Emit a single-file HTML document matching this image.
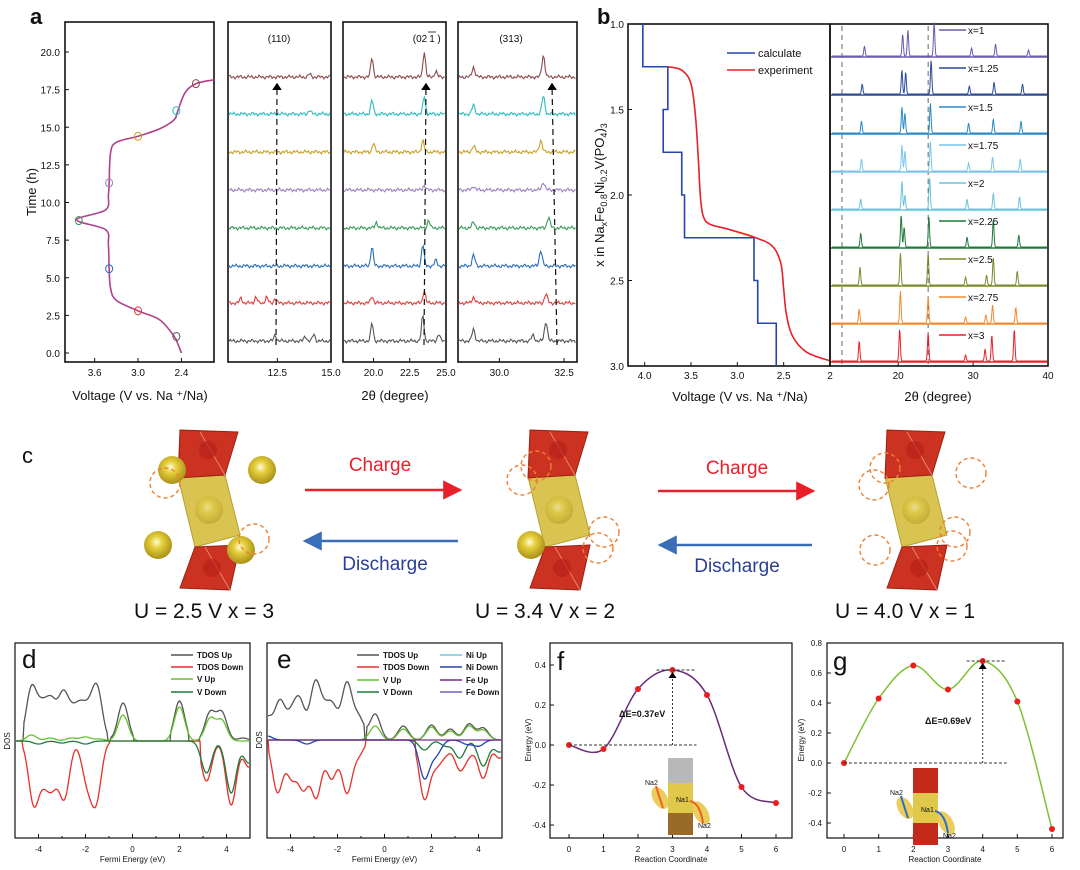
<!DOCTYPE html>
<html><head><meta charset="utf-8"><style>
html,body{margin:0;padding:0;background:#fff}
svg{display:block;font-family:"Liberation Sans",sans-serif}
</style></head><body>
<svg id="fig" width="1080" height="870" viewBox="0 0 1080 870" xmlns="http://www.w3.org/2000/svg">
<defs>
<radialGradient id="sph" cx="0.45" cy="0.4" r="0.6"><stop offset="0" stop-color="#fffbe0"/><stop offset="0.35" stop-color="#e6cf3c"/><stop offset="1" stop-color="#a89018"/></radialGradient>
<marker id="ahR" markerWidth="8" markerHeight="8" refX="7" refY="4" orient="auto"><path d="M0,0 L8,4 L0,8z" fill="#e8202a"/></marker>
<marker id="ahB" markerWidth="8" markerHeight="8" refX="7" refY="4" orient="auto"><path d="M0,0 L8,4 L0,8z" fill="#3a6eb8"/></marker>
<marker id="ahK" markerWidth="6" markerHeight="8" refX="5" refY="4" orient="auto"><path d="M0,0 L6,4 L0,8z" fill="#000"/></marker>
</defs>
</svg>
<script>
// ===== DATA =====
const aVolt = [2.4,2.45,2.5,2.7,3.0,3.3,3.38,3.4,3.41,3.45,3.85,3.45,3.41,3.4,3.38,3.3,3.0,2.7,2.5,2.45,2.35,2.2,1.95];
const aTime = [0,0.6,1.1,2.2,2.8,3.5,4.3,5.6,7.2,8.2,8.85,9.5,10.5,11.3,13.3,14.0,14.4,14.9,15.5,16.1,17.3,17.9,18.15];
const aMarkV = [2.47,3.0,3.4,3.82,3.4,3.0,2.47,2.2];
const aMarkT = [1.1,2.8,5.6,8.8,11.3,14.4,16.1,17.9];
const aMarkC = ['#555','#e33','#2a6ebb','#3a9a5a','#9b7fc0','#c9a020','#2bbcbc','#8b4a4a'];
const aYTicks = [0,2.5,5,7.5,10,12.5,15,17.5,20];
const aXTicks = [3.6,3.0,2.4];
const xrdColors = ['#555555','#e33b3b','#2a6ebb','#3a9a5a','#9b7fc0','#c9a020','#2bbcbc','#8b4a4a'];
const xrd1 = [[[12.4,6],[13.8,5],[14.2,7]],[[10.8,5],[11.5,6],[12.0,6],[12.4,5]],[],[],[],[],[[14.0,4]],[[14.0,3]]];
const xrd2 = [[[19.9,18],[23.4,26],[24.5,7]],[[19.9,7],[23.5,13]],[[19.9,20],[23.4,22],[24.3,6]],[[20.2,6],[23.8,8]],[[23.5,5]],[[20.0,9],[23.4,12]],[[19.9,14],[23.5,18]],[[19.9,20],[23.5,26],[24.3,6]]];
const xrd3 = [[[29.0,12],[31.3,6],[31.8,20]],[[29.0,6],[31.8,9]],[[29.0,11],[31.6,16]],[[29.0,6],[31.9,11]],[[29.0,4],[31.7,8]],[[29.0,6],[31.6,12]],[[29.0,9],[31.7,18]],[[29.0,10],[31.7,22]]];
const bCalcV = [4.02,4.02,3.75,3.75,3.8,3.8,3.6,3.6,3.57,3.57,2.82,2.82,2.78,2.78,2.58,2.58];
const bCalcX = [1.0,1.25,1.25,1.5,1.5,1.75,1.75,2.0,2.0,2.25,2.25,2.5,2.5,2.75,2.75,3.0];
const bExpV = [3.75,3.6,3.5,3.45,3.42,3.40,3.37,3.3,3.1,2.8,2.62,2.53,2.5,2.47,2.4,2.25,2.0];
const bExpX = [1.25,1.27,1.35,1.55,1.8,2.0,2.12,2.17,2.2,2.25,2.3,2.4,2.55,2.7,2.83,2.92,2.97];
const bXTicks = [4.0,3.5,3.0,2.5,2];
const bYTicks = [1.0,1.5,2.0,2.5,3.0];
const bLabels = ['x=1','x=1.25','x=1.5','x=1.75','x=2','x=2.25','x=2.5','x=2.75','x=3'];
const bColors = ['#6b5ab0','#2b4a9a','#2a8ac8','#7cc4ea','#6cc4d8','#1e7a3a','#7a8a2a','#f08a30','#e8202a'];
const bPeakPos = [[15.5,20.6,21.3,24.8,29.8,33.0,37.4],[15.2,20.5,21.0,24.4,29.5,32.8,36.6],[15.1,20.5,20.9,24.3,29.4,32.7,36.4],[15.1,20.5,20.9,24.3,29.4,32.6,36.3],[15.0,20.5,20.9,24.2,29.2,32.7,36.2],[15.0,20.4,20.8,24.1,29.2,32.7,36.1],[14.9,20.3,24.0,29.0,31.8,32.7,35.9],[14.8,20.3,24.0,29.0,31.7,32.6,35.7],[14.8,20.2,24.0,29.0,31.6,32.5,35.5]];
const bPeakH = [[10,22,26,34,8,12,6],[10,24,22,34,8,12,10],[12,26,20,30,10,14,12],[12,26,20,30,8,14,12],[10,28,14,32,10,16,12],[14,32,20,30,10,28,12],[18,32,32,8,10,28,14],[14,32,26,6,8,18,16],[20,32,28,6,12,26,32]];
const dTup = [[-4.3,52],[-3.85,30],[-3.45,36],[-2.95,44],[-2.55,22],[-2.2,28],[-1.85,22],[-1.5,50],[-0.4,38],[2.0,40],[3.3,28],[3.8,28],[4.7,3]];
const dTdn = [[-4.2,-62],[-3.75,-30],[-3.4,-38],[-2.9,-56],[-1.95,-36],[-1.55,-58],[3.15,-40],[4.2,-64],[4.95,-26]];
const dVup = [[-4.3,6],[-3.5,3],[-2.6,3],[-2.0,4],[-1.4,2],[-0.4,26],[2.0,34],[3.3,22],[3.8,20]];
const dVdn = [[-4.0,-3],[-3.0,-2],[-2.0,-3],[3.15,-32],[4.2,-52],[4.95,-22]];
const eTup = [[-5.0,22],[-4.45,38],[-3.95,22],[-3.6,36],[-2.95,55],[-2.55,22],[-2.2,30],[-1.6,56],[-1.1,22],[-0.4,26],[0.8,14],[2.0,15],[2.8,11],[3.6,16],[4.2,12]];
const eTdn = [[-4.55,-52],[-3.95,-36],[-3.45,-46],[-2.9,-56],[-2.25,-38],[-1.6,-52],[-1.1,-14],[1.7,-58],[2.2,-22],[2.6,-12],[3.2,-28],[3.6,-12],[4.2,-38],[4.9,-18]];
const eVup = [[-0.4,14],[0.8,11],[2.0,13],[2.8,9],[3.6,14],[4.2,10]];
const eVdn = [[1.7,-10],[2.6,-6],[3.2,-18],[4.2,-26],[4.9,-12]];
const eNi = [[-5.0,4],[-3.3,-4],[1.7,-38],[2.2,-14],[3.5,-4],[4.0,-6]];
const fX = [0,1,2,3,4,5,6];
const fE = [0,-0.02,0.28,0.375,0.25,-0.21,-0.29];
const gE = [0,0.43,0.65,0.49,0.68,0.41,-0.44];
const fYTicks = [-0.4,-0.2,0.0,0.2,0.4];
const gYTicks = [-0.4,-0.2,0.0,0.2,0.4,0.6,0.8];
const rcTicks = [0,1,2,3,4,5,6];
const dosTicks = [-4,-2,0,2,4];

// ===== helpers =====
const NS='http://www.w3.org/2000/svg';
const svg=document.getElementById('fig');
function mk(tag,attrs,parent){const e=document.createElementNS(NS,tag);for(const k in attrs)e.setAttribute(k,attrs[k]);(parent||svg).appendChild(e);return e;}
function lin(d0,d1,r0,r1){return v=>r0+(v-d0)*(r1-r0)/(d1-d0);}
function txt(x,y,s,size,anchor,extra){const t=mk('text',Object.assign({x:x,y:y,'font-size':size,'text-anchor':anchor||'middle',fill:'#111'},extra||{}));t.textContent=s;return t;}
function smooth(pts){let d='M'+pts[0][0]+','+pts[0][1];for(let i=0;i<pts.length-1;i++){const p0=pts[i-1]||pts[i],p1=pts[i],p2=pts[i+1],p3=pts[i+2]||p2;const c1=[p1[0]+(p2[0]-p0[0])/6,p1[1]+(p2[1]-p0[1])/6],c2=[p2[0]-(p3[0]-p1[0])/6,p2[1]-(p3[1]-p1[1])/6];d+=` C${c1[0]},${c1[1]} ${c2[0]},${c2[1]} ${p2[0]},${p2[1]}`;}return d;}
function gsum(list,x,w){let s=0;for(const p of list)s+=p[1]*Math.exp(-((x-p[0])**2)/(2*w*w));return s;}
function box(x,y,w,h,name,sw){const r=mk('rect',{x:x,y:y,width:w,height:h,fill:'none',stroke:'#111','stroke-width':sw||1.6});return r;}

// ===== panel labels =====
[['a',30,24,22],['b',597,24,22],['c',22,463,22],['d',22,668,26],['e',277,668,26],['f',557,670,26],['g',833,670,26]].forEach(p=>{const t=txt(p[1],p[2],p[0],p[3],'start',{'font-weight':p[0]<'c'?'bold':'normal'});});

// ===== panel a voltage =====
{
const X=lin(4.01,1.95,65,214),Y=lin(0,20,353,52);
box(65,22,149,340,'a-voltage-frame');
aYTicks.forEach(v=>{const l=mk('line',{x1:65,x2:69,y1:Y(v),y2:Y(v),stroke:'#111'});const t=txt(60,Y(v)+4,v.toFixed(1),10,'end');});
aXTicks.forEach(v=>{const l=mk('line',{x1:X(v),x2:X(v),y1:362,y2:358,stroke:'#111'});const t=txt(X(v),376,v.toFixed(1),10);});
const cp=mk('path',{d:smooth(aVolt.map((v,i)=>[X(v),Y(aTime[i])])),fill:'none',stroke:'#b0408a','stroke-width':1.6});

aMarkV.forEach((v,i)=>{const c=mk('ellipse',{cx:X(v),cy:Y(aMarkT[i]),rx:3.5,ry:4,fill:'none',stroke:aMarkC[i],'stroke-width':1});});
const yt=txt(0,0,'Time (h)',13,'middle',{transform:'translate(36,192) rotate(-90)'});
const xt=txt(140,400,'Voltage (V vs. Na ⁺/Na)',13);
}
const baseY=[341,303,266,228,190,152,114,77];
function xrdPanel(x0,x1,d0,d1,peaks,ticks,name,lbl,lblX,arrowX0,arrowX1){
  const X=lin(d0,d1,x0,x1);
  box(x0,22,x1-x0,340,name+'-frame');
  ticks.forEach(v=>{const l=mk('line',{x1:X(v),x2:X(v),y1:362,y2:358,stroke:'#111'});const t=txt(X(v),376,v.toFixed(1),10);});
  peaks.forEach((pk,i)=>{let d='';for(let px=x0+1;px<=x1-1;px+=1.2){const v=d0+(px-x0)*(d1-d0)/(x1-x0);const h=gsum(pk,v,(d1-d0)*0.012)+1.2*Math.sin(px*1.7+i)+0.8*Math.sin(px*0.63+i*2);d+=(d?'L':'M')+px.toFixed(1)+','+(baseY[i]-h).toFixed(1);}
    const p=mk('path',{d:d,fill:'none',stroke:xrdColors[i],'stroke-width':1.1});});
  const t=txt(lblX,42,lbl,10);
  const a=mk('line',{x1:arrowX0,y1:345,x2:arrowX1,y2:84,stroke:'#111','stroke-dasharray':'6,4','stroke-width':1.2,'marker-end':'url(#ahK)'});
}
xrdPanel(228,331,10.2,15.0,xrd1,[12.5,15.0],'a-xrd-110','(110)',279,276,277);
xrdPanel(343,446,17.9,25.0,xrd2,[20.0,22.5,25.0],'a-xrd-021','(02',420,424,426);
{const t=txt(432,42,'1',10);const l=mk('line',{x1:428,x2:436,y1:32,y2:32,stroke:'#111','stroke-width':0.8});const t2=txt(439,42,')',10);}
xrdPanel(458,577,28.4,33.0,xrd3,[30.0,32.5],'a-xrd-313','(313)',511,557,552);
{const t=txt(395,400,'2θ (degree)',13);}

// ===== panel b =====
{
const X=lin(4.18,2.0,628,830),Y=lin(1.0,3.0,24,366);
box(628,24,202,342,'b-voltage-frame');
bXTicks.forEach(v=>{const l=mk('line',{x1:X(v),x2:X(v),y1:366,y2:362,stroke:'#111'});const t=txt(X(v),379,v===2?'2':v.toFixed(1),10);});
bYTicks.forEach(v=>{const l=mk('line',{x1:628,x2:632,y1:Y(v),y2:Y(v),stroke:'#111'});const t=txt(624,Y(v)+4,v.toFixed(1),10,'end');});
const c=mk('polyline',{points:bCalcV.map((v,i)=>X(v)+','+Y(bCalcX[i])).join(' '),fill:'none',stroke:'#2244b0','stroke-width':1.6});
const e=mk('path',{d:smooth(bExpV.map((v,i)=>[X(v),Y(bExpX[i])])),fill:'none',stroke:'#e8202a','stroke-width':1.6});
const l1=mk('line',{x1:727,x2:755,y1:53,y2:53,stroke:'#2244b0','stroke-width':1.6});
const t1=txt(758,57,'calculate',11,'start');
const l2=mk('line',{x1:727,x2:755,y1:70,y2:70,stroke:'#e8202a','stroke-width':1.6});
const t2=txt(758,74,'experiment',11,'start');
const yt=mk('text',{x:0,y:0,'font-size':13,'text-anchor':'middle',fill:'#111',transform:'translate(604,195) rotate(-90)'});yt.innerHTML='x in Na<tspan font-size="9" dy="3">x</tspan><tspan dy="-3">Fe</tspan><tspan font-size="9" dy="3">0.8</tspan><tspan dy="-3">Ni</tspan><tspan font-size="9" dy="3">0.2</tspan><tspan dy="-3">V(PO</tspan><tspan font-size="9" dy="3">4</tspan><tspan dy="-3">)</tspan><tspan font-size="9" dy="3">3</tspan>';

const xt=txt(740,401,'Voltage (V vs. Na ⁺/Na)',13);
const XX=lin(10.9,40,830,1048);
box(830,24,218,342,'b-xrd-frame');
[20,30,40].forEach(v=>{const l=mk('line',{x1:XX(v),x2:XX(v),y1:366,y2:362,stroke:'#111'});const t=txt(XX(v),379,String(v),10);});
[12.5,24.0].forEach(v=>{const l=mk('line',{x1:XX(v),x2:XX(v),y1:26,y2:364,stroke:'#555','stroke-dasharray':'5,4','stroke-width':0.9});});
const bBase=[57,95,134,172,210,248,286,324,362];
bLabels.forEach((lb,i)=>{let d='';for(let px=832;px<=1047;px+=0.5){const v=10.9+(px-830)*(29.1)/218;let h=0;bPeakPos[i].forEach((p,k)=>{h+=bPeakH[i][k]*Math.exp(-((v-p)**2)/(2*0.09*0.09));});d+=(d?'L':'M')+px+','+(bBase[i]-1-h).toFixed(1);}
  const p=mk('path',{d:d,fill:'none',stroke:bColors[i],'stroke-width':1});
  const bl=mk('line',{x1:831,x2:1047,y1:bBase[i],y2:bBase[i],stroke:bColors[i],'stroke-width':1.4});
  const sw=mk('line',{x1:939,x2:966,y1:bBase[i]-27,y2:bBase[i]-27,stroke:bColors[i],'stroke-width':1.4});
  const t=txt(968,bBase[i]-23,lb,10,'start');});
const xt2=txt(938,401,'2θ (degree)',13);
}

// ===== panel c =====
function structure(dx,spheres,dashed){
  const g=mk('g',{transform:`translate(${dx},0)`});
  const y=mk('polygon',{points:'178,477 225,475 240,535 195,547',fill:'#d9c452',stroke:'#b8a030'},g);
  const t=mk('polygon',{points:'180,430 238,432 225,475 178,478',fill:'#cc3222',stroke:'#992010'},g);
  const b=mk('polygon',{points:'195,547 240,545 230,590 180,588',fill:'#cc3222',stroke:'#992010'},g);
  mk('line',{x1:200,y1:432,x2:225,y2:475,stroke:'#e89080','stroke-width':0.8},g);mk('line',{x1:205,y1:547,x2:230,y2:590,stroke:'#e89080','stroke-width':0.8},g);
  mk('circle',{cx:208,cy:450,r:9,fill:'#b82018',opacity:0.7},g);mk('circle',{cx:212,cy:568,r:9,fill:'#b82018',opacity:0.7},g);
  const ce=mk('circle',{cx:209,cy:510,r:14,fill:'url(#sph)',opacity:0.45},g);
  spheres.forEach(s=>{const c=mk('circle',{cx:s[0],cy:s[1],r:14,fill:'url(#sph)'},g);});
  dashed.forEach(s=>{const c=mk('circle',{cx:s[0],cy:s[1],r:15,fill:'none',stroke:'#ee8030','stroke-width':1.4,'stroke-dasharray':'4,3'},g);});
}
structure(0,[[172,470],[262,470],[158,545],[241,550]],[[165,483],[254,539]]);
structure(350,[[181,545]],[[172,480],[186,466],[254,532],[248,548]]);
structure(707,[],[[167,485],[178,468],[264,473],[168,550],[248,532],[245,546]]);
function arrow(x1,x2,y,col,mark,name){const l=mk('line',{x1:x1,x2:x2,y1:y,y2:y,stroke:col,'stroke-width':2.4,'marker-end':mark});}
arrow(305,460,490,'#e8202a','url(#ahR)','charge-arrow-1');arrow(458,305,541,'#3a6eb8','url(#ahB)','discharge-arrow-1');
arrow(658,813,491,'#e8202a','url(#ahR)','charge-arrow-2');arrow(812,660,545,'#3a6eb8','url(#ahB)','discharge-arrow-2');
[[380,471,'Charge','#e8202a'],[385,570,'Discharge','#2a3e98'],[737,474,'Charge','#e8202a'],[737,572,'Discharge','#2a3e98']].forEach(a=>{const t=txt(a[0],a[1],a[2],19,'middle',{fill:a[3]});});
[[204,'U = 2.5 V x = 3'],[545,'U = 3.4 V x = 2'],[905,'U = 4.0 V x = 1']].forEach(a=>{const t=txt(a[0],618,a[1],21);});

// ===== panels d, e =====
function dosPanel(x0,x1,zeroY,curves,name,legend){
  const X=lin(-5,5,x0,x1);
  box(x0,643,x1-x0,195,name+'-frame',1.2);
  dosTicks.forEach(v=>{const l=mk('line',{x1:X(v),x2:X(v),y1:838,y2:834,stroke:'#111'});const t=txt(X(v),852,String(v),8);});
  [-3,-1,1,3].forEach(v=>{const l=mk('line',{x1:X(v),x2:X(v),y1:838,y2:836,stroke:'#111'});});
  curves.forEach(c=>{let d='';for(let px=x0+1;px<x1;px+=1){const v=-5+(px-x0)*10/(x1-x0);let h=gsum(c.data,v,0.22);if(c.gap){for(const g of c.gap)if(v>g[0]&&v<g[1])h=0;}d+=(d?'L':'M')+px+','+(zeroY-h).toFixed(1);}
    const p=mk('path',{d:d,fill:'none',stroke:c.col,'stroke-width':1.3});});
  const yt=txt(0,0,'DOS',8,'middle',{transform:`translate(${x0-5},${zeroY}) rotate(-90)`});
  const xt=txt((x0+x1)/2,862,'Fermi Energy (eV)',8);
  legend.forEach(l=>{const s=mk('line',{x1:l[0],x2:l[0]+22,y1:l[1],y2:l[1],stroke:l[3],'stroke-width':1.5});const t=txt(l[0]+26,l[1]+3,l[2],8,'start',{'font-weight':'bold'});});
}
dosPanel(15,250,741,[{n:'tdos-up',data:dTup,col:'#555',gap:[[-5,-4.65],[-1.05,-0.95],[0.05,1.6],[2.4,2.85]]},{n:'tdos-down',data:dTdn,col:'#e8302a',gap:[[-5,-4.7],[-1.0,2.9]]},{n:'v-up',data:dVup,col:'#66c030'},{n:'v-down',data:dVdn,col:'#1e7a3a'}],'d',
 [[171,655,'TDOS Up','#555'],[171,667,'TDOS Down','#e8302a'],[171,679,'V Up','#66c030'],[171,692,'V Down','#1e7a3a']]);
dosPanel(267,502,740,[{n:'tdos-up',data:eTup,col:'#555',gap:[[-0.85,-0.75]]},{n:'tdos-down',data:eTdn,col:'#e8302a',gap:[[-5,-4.95],[-0.8,1.3]]},{n:'v-up',data:eVup,col:'#66c030'},{n:'v-down',data:eVdn,col:'#1e7a3a'},{n:'ni-down',data:eNi,col:'#2244b0'},{n:'fe-up',data:[[0,0]],col:'#7a2a8a'}],'e',
 [[357,655,'TDOS Up','#555'],[357,667,'TDOS Down','#e8302a'],[357,680,'V Up','#66c030'],[357,692,'V Down','#1e7a3a'],[440,655,'Ni Up','#70c8e0'],[440,667,'Ni Down','#2244b0'],[440,680,'Fe Up','#7a2a8a'],[440,692,'Fe Down','#7060c0']]);

// ===== panels f, g =====
function nebPanel(x0,x1,px0,px6,d0,d1,r0,r1,E,yt,col,name,dE,dElx,dEly,yTickX){
  const X=lin(0,6,px0,px6),Y=lin(d0,d1,r0,r1);
  box(x0,643,x1-x0,195,name+'-frame',1.2);
  rcTicks.forEach(v=>{const l=mk('line',{x1:X(v),x2:X(v),y1:838,y2:834,stroke:'#111'});const t=txt(X(v),852,String(v),8);});
  yt.forEach(v=>{const l=mk('line',{x1:x0,x2:x0+4,y1:Y(v),y2:Y(v),stroke:'#111'});const t=txt(yTickX,Y(v)+3,v.toFixed(1),8,'end');});
  const pts=fX.map((x,i)=>[X(x),Y(E[i])]);
  const p=mk('path',{d:smooth(pts),fill:'none',stroke:col,'stroke-width':1.5});
  pts.forEach(q=>{const c=mk('circle',{cx:q[0],cy:q[1],r:3,fill:'#ee1c1c'});});
  const imax=E.indexOf(Math.max(...E));
  const h0=mk('line',{x1:X(0),x2:X(imax)+24,y1:Y(0),y2:Y(0),stroke:'#333','stroke-dasharray':'3,2'});
  const h1=mk('line',{x1:X(imax)-16,x2:X(imax)+24,y1:Y(E[imax]),y2:Y(E[imax]),stroke:'#333','stroke-dasharray':'3,2'});
  const v=mk('line',{x1:X(imax),x2:X(imax),y1:Y(0),y2:Y(E[imax])+3,stroke:'#333','stroke-dasharray':'2,2','marker-end':'url(#ahK)'});
  const t=txt(dElx,dEly,'ΔE='+dE+'eV',9,'start',{'font-weight':'bold'});
  const ax=txt((x0+x1)/2,862,'Reaction Coordinate',8);
}
nebPanel(550,792,569,776,-0.4,0.4,825,665,fE,fYTicks,'#6a2a7a','f','0.37',619,717,546);
nebPanel(827,1063,844,1052,-0.4,0.8,823,643,gE,gYTicks,'#7cc030','g','0.69',925,724,822);
{const t=txt(0,0,'Energy (eV)',8,'middle',{transform:'translate(531,740) rotate(-90)'});
 const t2=txt(0,0,'Energy (eV)',8,'middle',{transform:'translate(804,740) rotate(-90)'});}
function inset(x,y,topCol,botCol,arrowCol,name){
  const g=mk('g',{});
  mk('rect',{x:x,y:y,width:25,height:25,fill:topCol},g);mk('rect',{x:x,y:y+25,width:25,height:30,fill:'#e0c84a'},g);mk('rect',{x:x,y:y+55,width:25,height:22,fill:botCol},g);
  mk('ellipse',{cx:x-8,cy:y+40,rx:7,ry:12,fill:'#e8c440',opacity:0.85,transform:`rotate(-30 ${x-8} ${y+40})`},g);
  mk('ellipse',{cx:x+33,cy:y+55,rx:7,ry:13,fill:'#e8c440',opacity:0.85,transform:`rotate(-30 ${x+33} ${y+55})`},g);
  mk('path',{d:`M${x+35},${y+65} Q${x+32},${y+45} ${x+22},${y+43}`,fill:'none',stroke:arrowCol,'stroke-width':2},g);
  mk('path',{d:`M${x-5},${y+50} Q${x-10},${y+35} ${x-12},${y+28}`,fill:'none',stroke:arrowCol,'stroke-width':2},g);
  [['Na2',x-23,y+27],['Na1',x+8,y+44],['Na2',x+30,y+70]].forEach(a=>{const t=txt(a[1],a[2],a[0],7,'start');});
}
inset(668,758,'#b8b8b8','#9a6a28','#ee6020','f-inset-structure');
inset(913,768,'#c42a1a','#c42a1a','#2a6ec8','g-inset-structure');
</script>
</body></html>
